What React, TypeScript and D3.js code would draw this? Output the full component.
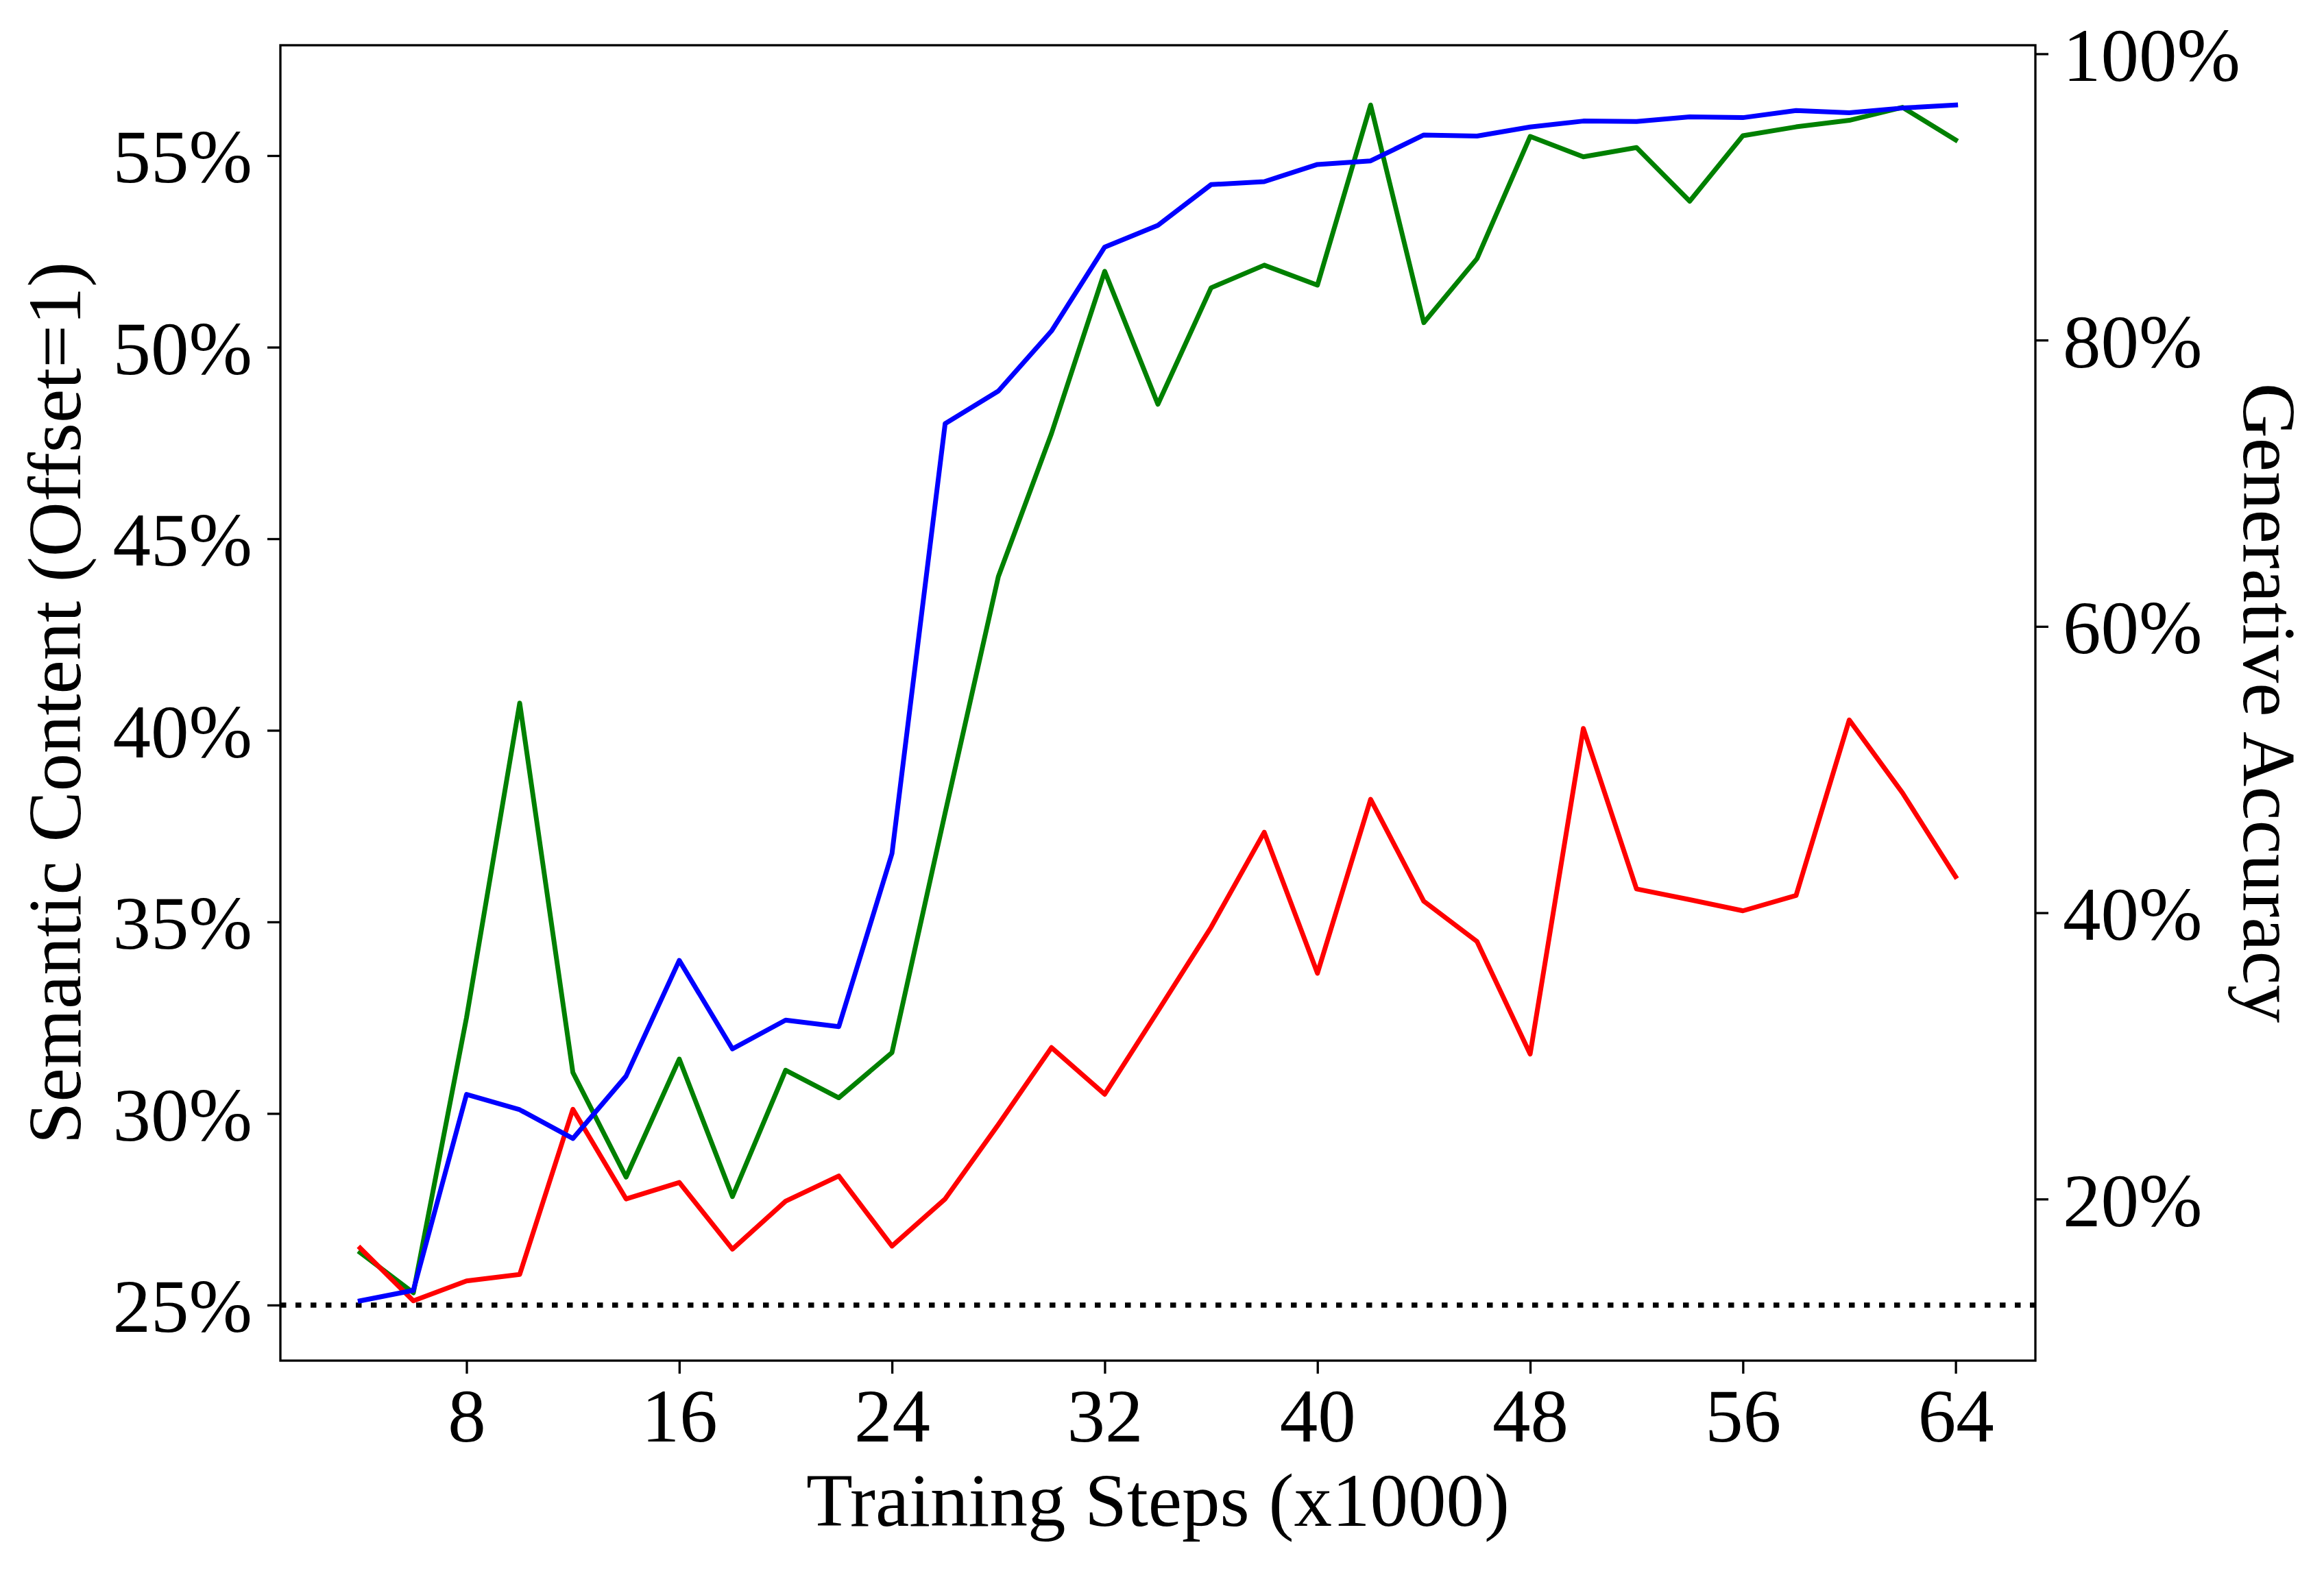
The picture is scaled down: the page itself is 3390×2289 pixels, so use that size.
import { useEffect, useRef } from 'react';
import * as d3 from 'd3';

// training steps (x1000)
const steps = [4, 6, 8, 10, 12, 14, 16, 18, 20, 22, 24, 26, 28, 30, 32, 34, 36, 38, 40, 42, 44, 46, 48, 50, 52, 54, 56, 58, 60, 62, 64];

// semantic content (left axis, %)
const semanticGreen = [
  26.37, 25.32, 32.5, 40.71, 31.07, 28.34, 31.42, 27.83, 31.13, 30.41, 31.59,
  37.85, 44.01, 47.75, 51.98, 48.51, 51.55, 52.14, 51.62, 56.32, 50.64, 52.31,
  55.5, 54.97, 55.21, 53.81, 55.52, 55.75, 55.92, 56.26, 55.41,
];
const semanticRed = [
  26.49, 25.11, 25.63, 25.8, 30.11, 27.77, 28.2, 26.46, 27.71, 28.37, 26.54,
  27.77, 29.71, 31.72, 30.5, 32.67, 34.86, 37.34, 33.66, 38.2, 35.54, 34.49,
  31.55, 40.05, 35.86, 35.58, 35.29, 35.69, 40.27, 38.37, 36.18,
];

// generative accuracy (right axis, %)
const generativeBlue = [
  12.89, 13.62, 27.31, 26.24, 24.23, 28.59, 36.67, 30.49, 32.5, 32.04, 44.13,
  74.17, 76.44, 80.64, 86.5, 88.02, 90.86, 91.07, 92.27, 92.52, 94.33, 94.25,
  94.89, 95.3, 95.27, 95.59, 95.54, 96.04, 95.88, 96.21, 96.42,
];

const chanceLevel = 25;
const xTicks = [8, 16, 24, 32, 40, 48, 56, 64];
const leftTicks = [25, 30, 35, 40, 45, 50, 55];
const rightTicks = [20, 40, 60, 80, 100];

const xLabel = 'Training Steps (x1000)';
const leftLabel = 'Semantic Content (Offset=1)';
const rightLabel = 'Generative Accuracy';

const FONT = '"Liberation Serif", "Times New Roman", "DejaVu Serif", serif';

// matplotlib-like 5% autoscale margin
const padded = (vals: number[]): [number, number] => {
  const [lo, hi] = d3.extent(vals) as [number, number];
  const m = (hi - lo) * 0.05;
  return [lo - m, hi + m];
};

export default function App() {
  const svgRef = useRef<SVGSVGElement>(null);

  useEffect(() => {
    if (!svgRef.current) return;
    const root = d3.select(svgRef.current);
    root.selectAll('*').remove();

    const width = 3390;
    const height = 2289;
    const margin = { top: 66, right: 421, bottom: 304, left: 409 };
    const innerWidth = width - margin.left - margin.right;
    const innerHeight = height - margin.top - margin.bottom;

    root.append('rect').attr('width', width).attr('height', height).attr('fill', '#fff');

    const svg = root.append('g').attr('transform', `translate(${margin.left},${margin.top})`);

    const x = d3.scaleLinear().domain(padded(steps)).range([0, innerWidth]);
    const yLeft = d3
      .scaleLinear()
      .domain(padded([...semanticGreen, ...semanticRed]))
      .range([innerHeight, 0]);
    const yRight = d3.scaleLinear().domain(padded(generativeBlue)).range([innerHeight, 0]);

    const tickSize = 19;
    const tickWidth = 3.3;
    const fontSize = 111;

    const styleAxis = (g: d3.Selection<SVGGElement, unknown, null, undefined>) => {
      g.select('.domain').remove();
      g.selectAll('.tick line').attr('stroke', '#000').attr('stroke-width', tickWidth);
      g.selectAll('.tick text')
        .attr('fill', '#000')
        .style('font-family', FONT)
        .style('font-size', `${fontSize}px`);
    };

    // x axis
    svg
      .append('g')
      .attr('transform', `translate(0,${innerHeight})`)
      .call(
        d3
          .axisBottom(x)
          .tickValues(xTicks)
          .tickSize(tickSize)
          .tickPadding(20)
          .tickFormat((d) => `${d}`)
      )
      .call(styleAxis);

    // left axis
    svg
      .append('g')
      .call(
        d3
          .axisLeft(yLeft)
          .tickValues(leftTicks)
          .tickSize(tickSize)
          .tickPadding(22)
          .tickFormat((d) => `${d}%`)
      )
      .call(styleAxis)
      .selectAll('.tick text')
      .attr('dy', '0.35em');

    // right axis
    svg
      .append('g')
      .attr('transform', `translate(${innerWidth},0)`)
      .call(
        d3
          .axisRight(yRight)
          .tickValues(rightTicks)
          .tickSize(tickSize)
          .tickPadding(21)
          .tickFormat((d) => `${d}%`)
      )
      .call(styleAxis)
      .selectAll('.tick text')
      .attr('dy', '0.35em');

    // lines
    const lineLeft = d3
      .line<number>()
      .x((_, i) => x(steps[i]))
      .y((d) => yLeft(d));
    const lineRight = d3
      .line<number>()
      .x((_, i) => x(steps[i]))
      .y((d) => yRight(d));

    const drawLine = (values: number[], gen: d3.Line<number>, color: string) => {
      svg
        .append('path')
        .datum(values)
        .attr('d', gen)
        .attr('fill', 'none')
        .attr('stroke', color)
        .attr('stroke-width', 7)
        .attr('stroke-linejoin', 'round')
        .attr('stroke-linecap', 'square');
    };

    drawLine(semanticGreen, lineLeft, '#008000');
    drawLine(semanticRed, lineLeft, '#ff0000');

    // chance level
    svg
      .append('line')
      .attr('x1', 0)
      .attr('x2', innerWidth)
      .attr('y1', yLeft(chanceLevel))
      .attr('y2', yLeft(chanceLevel))
      .attr('stroke', '#000')
      .attr('stroke-width', 7.5)
      .attr('stroke-dasharray', '8.5 13.5');

    drawLine(generativeBlue, lineRight, '#0000ff');

    // frame
    svg
      .append('rect')
      .attr('width', innerWidth)
      .attr('height', innerHeight)
      .attr('fill', 'none')
      .attr('stroke', '#000')
      .attr('stroke-width', tickWidth);

    // axis labels
    root
      .append('text')
      .attr('x', margin.left + innerWidth / 2)
      .attr('y', 2226)
      .attr('text-anchor', 'middle')
      .style('font-family', FONT)
      .style('font-size', `${fontSize}px`)
      .text(xLabel);

    root
      .append('text')
      .attr('transform', `translate(117,${margin.top + innerHeight / 2}) rotate(-90)`)
      .attr('text-anchor', 'middle')
      .style('font-family', FONT)
      .style('font-size', `${fontSize}px`)
      .text(leftLabel);

    root
      .append('text')
      .attr('transform', `translate(3273,${margin.top + innerHeight / 2}) rotate(90)`)
      .attr('text-anchor', 'middle')
      .style('font-family', FONT)
      .style('font-size', `${fontSize}px`)
      .text(rightLabel);
  }, []);

  return (
    <svg
      ref={svgRef}
      width={3390}
      height={2289}
      style={{ position: 'absolute', left: 0, top: 0, display: 'block' }}
    />
  );
}
